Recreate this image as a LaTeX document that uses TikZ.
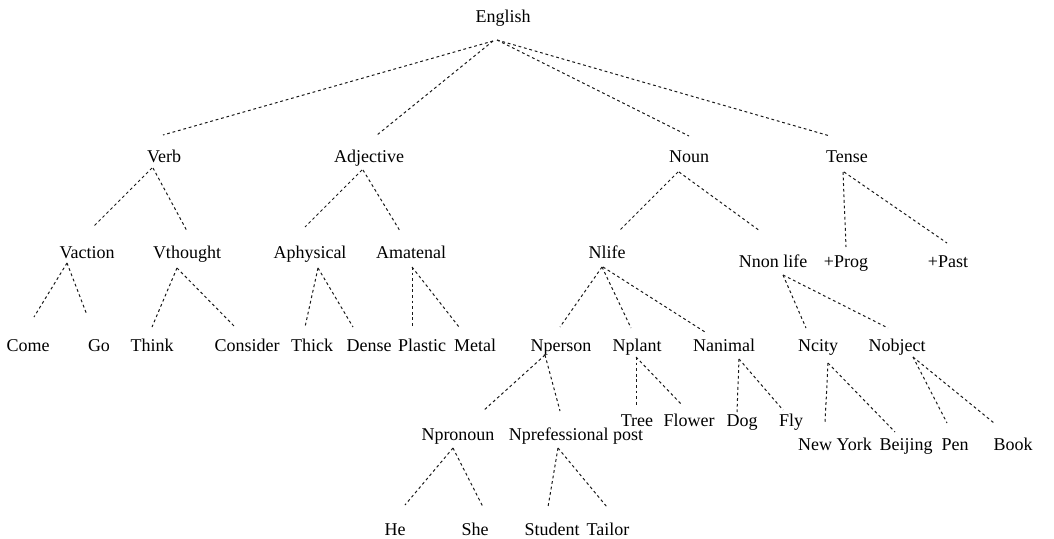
\documentclass[tikz,border=0pt]{standalone}
\usepackage{fontspec}
\setmainfont{Liberation Serif}
\begin{document}
\begin{tikzpicture}[x=1pt,y=-1pt,
  lbl/.style={inner sep=0pt, anchor=base, font=\fontsize{18}{20}\selectfont, text=black},
  edge/.style={draw=black!90, line width=1pt, dash pattern=on 2.8pt off 2.8pt}]
\useasboundingbox (0,0) rectangle (1054,538);
% level 0
\node[lbl] (english) at (503,23) {English};
% level 1
\node[lbl] (verb) at (164,162) {Verb};
\node[lbl] (adjective) at (369,162) {Adjective};
\node[lbl] (noun) at (689,162) {Noun};
\node[lbl] (tense) at (847,162) {Tense};
% level 2
\node[lbl] (vaction) at (87,258) {Vaction};
\node[lbl] (vthought) at (187,258) {Vthought};
\node[lbl] (aphysical) at (310,258) {Aphysical};
\node[lbl] (amatenal) at (411,258) {Amatenal};
\node[lbl] (nlife) at (607,258) {Nlife};
\node[lbl] (nnonlife) at (773,267) {Nnon life};
\node[lbl] (prog) at (846,267) {+Prog};
\node[lbl] (past) at (948,267) {+Past};
% level 3
\node[lbl] (come) at (28,351) {Come};
\node[lbl] (go) at (99,351) {Go};
\node[lbl] (think) at (152,351) {Think};
\node[lbl] (consider) at (247,351) {Consider};
\node[lbl] (thick) at (312,351) {Thick};
\node[lbl] (dense) at (369,351) {Dense};
\node[lbl] (plastic) at (422,351) {Plastic};
\node[lbl] (metal) at (475,351) {Metal};
\node[lbl] (nperson) at (561,351) {Nperson};
\node[lbl] (nplant) at (637,351) {Nplant};
\node[lbl] (nanimal) at (724,351) {Nanimal};
\node[lbl] (ncity) at (818,351) {Ncity};
\node[lbl] (nobject) at (897,351) {Nobject};
% level 4
\node[lbl] (tree) at (637,426) {Tree};
\node[lbl] (flower) at (689,426) {Flower};
\node[lbl] (dog) at (742,426) {Dog};
\node[lbl] (fly) at (791,426) {Fly};
\node[lbl] (npronoun) at (458,440) {Npronoun};
\node[lbl] (nprof) at (576,440) {Nprefessional post};
\node[lbl] (newyork) at (835,450) {New York};
\node[lbl] (beijing) at (906,450) {Beijing};
\node[lbl] (pen) at (955,450) {Pen};
\node[lbl] (book) at (1013,450) {Book};
% level 5
\node[lbl] (he) at (395,535) {He};
\node[lbl] (she) at (475,535) {She};
\node[lbl] (student) at (552,535) {Student};
\node[lbl] (tailor) at (608,535) {Tailor};
% connectors
\draw[edge] ([shift={(-10,18)}]english.base) -- ([shift={(-1,-27)}]verb.base);
\draw[edge] ([shift={(-10,18)}]english.base) -- ([shift={(8,-27)}]adjective.base);
\draw[edge] ([shift={(-6,17)}]english.base) -- ([shift={(0,-26)}]noun.base);
\draw[edge] ([shift={(-6,17)}]english.base) -- ([shift={(-17,-26)}]tense.base);
\draw[edge] ([shift={(-12,6)}]verb.base) -- ([shift={(6,-31)}]vaction.base);
\draw[edge] ([shift={(-11,6)}]verb.base) -- ([shift={(0,-27)}]vthought.base);
\draw[edge] ([shift={(-7,8)}]adjective.base) -- ([shift={(-5,-31)}]aphysical.base);
\draw[edge] ([shift={(-6,8)}]adjective.base) -- ([shift={(-11,-27)}]amatenal.base);
\draw[edge] ([shift={(-11,10)}]noun.base) -- ([shift={(12,-27)}]nlife.base);
\draw[edge] ([shift={(-10,10)}]noun.base) -- ([shift={(-13,-36)}]nnonlife.base);
\draw[edge] ([shift={(-4,10)}]tense.base) -- ([shift={(0,-20)}]prog.base);
\draw[edge] ([shift={(-3,10)}]tense.base) -- ([shift={(-1,-24)}]past.base);
\draw[edge] ([shift={(-20,5)}]vaction.base) -- ([shift={(6,-34)}]come.base);
\draw[edge] ([shift={(-20,5)}]vaction.base) -- ([shift={(-12,-36)}]go.base);
\draw[edge] ([shift={(-10,10)}]vthought.base) -- ([shift={(0,-24)}]think.base);
\draw[edge] ([shift={(-10,10)}]vthought.base) -- ([shift={(-12,-24)}]consider.base);
\draw[edge] ([shift={(8,10)}]aphysical.base) -- ([shift={(-7,-24)}]thick.base);
\draw[edge] ([shift={(8,10)}]aphysical.base) -- ([shift={(-16,-24)}]dense.base);
\draw[edge] ([shift={(1,9)}]amatenal.base) -- ([shift={(-10,-24)}]plastic.base);
\draw[edge] ([shift={(1,9)}]amatenal.base) -- ([shift={(-16,-24)}]metal.base);
\draw[edge] ([shift={(-5,9)}]nlife.base) -- ([shift={(-1,-24)}]nperson.base);
\draw[edge] ([shift={(-5,9)}]nlife.base) -- ([shift={(-6,-23)}]nplant.base);
\draw[edge] ([shift={(-4,9)}]nlife.base) -- ([shift={(-19,-19)}]nanimal.base);
\draw[edge] ([shift={(10,8)}]nnonlife.base) -- ([shift={(-12,-23)}]ncity.base);
\draw[edge] ([shift={(10,8)}]nnonlife.base) -- ([shift={(-9,-23)}]nobject.base);
\draw[edge] ([shift={(-16,4)}]nperson.base) -- ([shift={(25,-29)}]npronoun.base);
\draw[edge] ([shift={(-16,4)}]nperson.base) -- ([shift={(-16,-29)}]nprof.base);
\draw[edge] ([shift={(-1,6)}]nplant.base) -- ([shift={(-1,-19)}]tree.base);
\draw[edge] ([shift={(-1,6)}]nplant.base) -- ([shift={(-7,-21)}]flower.base);
\draw[edge] ([shift={(15,8)}]nanimal.base) -- ([shift={(-5,-14)}]dog.base);
\draw[edge] ([shift={(15,8)}]nanimal.base) -- ([shift={(-8,-16)}]fly.base);
\draw[edge] ([shift={(10,12)}]ncity.base) -- ([shift={(-10,-27)}]newyork.base);
\draw[edge] ([shift={(10,12)}]ncity.base) -- ([shift={(-11,-18)}]beijing.base);
\draw[edge] ([shift={(16,6)}]nobject.base) -- ([shift={(-8,-27)}]pen.base);
\draw[edge] ([shift={(16,6)}]nobject.base) -- ([shift={(-19,-27)}]book.base);
\draw[edge] ([shift={(-5,8)}]npronoun.base) -- ([shift={(10,-30)}]he.base);
\draw[edge] ([shift={(-5,8)}]npronoun.base) -- ([shift={(8,-28)}]she.base);
\draw[edge] ([shift={(-18,8)}]nprof.base) -- ([shift={(-4,-28)}]student.base);
\draw[edge] ([shift={(-18,8)}]nprof.base) -- ([shift={(-1,-28)}]tailor.base);
\end{tikzpicture}
\end{document}
